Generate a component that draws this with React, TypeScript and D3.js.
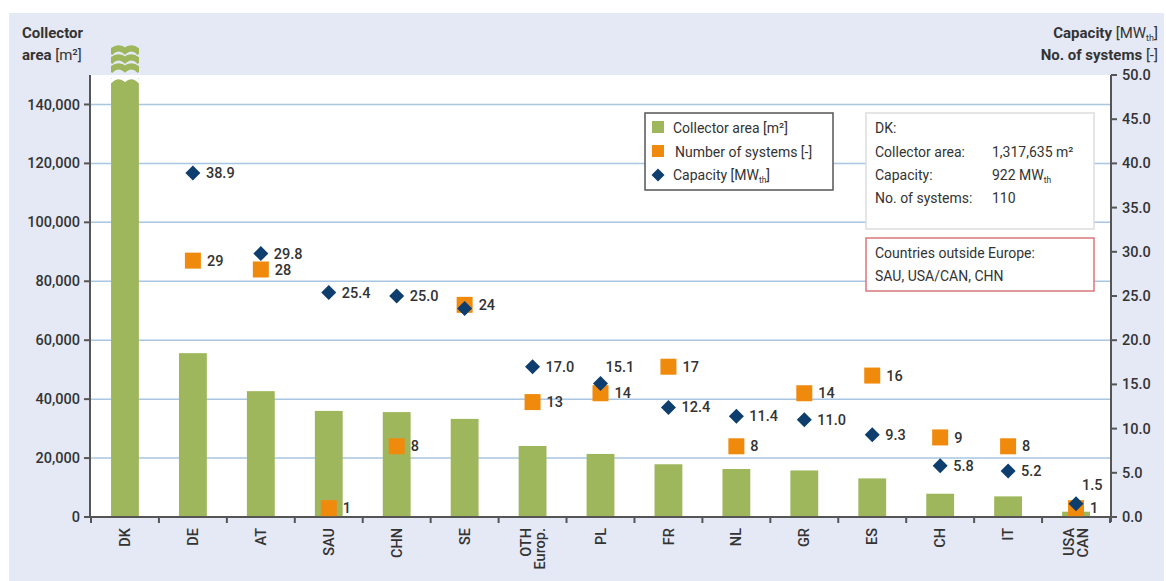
import React from 'react';
import * as d3 from 'd3';

const categories = ['DK', 'DE', 'AT', 'SAU', 'CHN', 'SE', 'OTH|Europ.', 'PL', 'FR', 'NL', 'GR', 'ES', 'CH', 'IT', 'USA|CAN'];
const collectorArea = [1317635, 55600, 42700, 36000, 35600, 33300, 24100, 21400, 17900, 16300, 15800, 13100, 7900, 7000, 1800];
const numberOfSystems = [110, 29, 28, 1, 8, 24, 13, 14, 17, 8, 14, 16, 9, 8, 1];
const capacity = [922, 38.9, 29.8, 25.4, 25.0, 23.6, 17.0, 15.1, 12.4, 11.4, 11.0, 9.3, 5.8, 5.2, 1.5];
// label shown next to the capacity diamond ('' = no label)
const capacityLabels = ['', '38.9', '29.8', '25.4', '25.0', '', '17.0', '15.1', '12.4', '11.4', '11.0', '9.3', '5.8', '5.2', '1.5'];
const leftTicks = [0, 20000, 40000, 60000, 80000, 100000, 120000, 140000];
const rightTicks = [0, 5, 10, 15, 20, 25, 30, 35, 40, 45, 50];

const W = 1166;
const H = 581;
const FONT = 'Roboto, "Noto Sans", sans-serif';
const GREEN = '#9fb75c';
const ORANGE = '#f08a0c';
const NAVY = '#0e3e6e';
const TEXT = '#333333';

const App: React.FC = () => {
  const x = d3.scaleBand<string>().domain(categories).range([91, 1110]).paddingInner(0.59).paddingOuter(0.295);
  const yLeft = d3.scaleLinear().domain([0, 150000]).range([517, 75]);
  const yRight = d3.scaleLinear().domain([0, 50]).range([517, 75]);
  const fmt = d3.format(',');
  const cx = (c: string) => (x(c) ?? 0) + x.bandwidth() / 2;

  const diamond = (s: number) => `M0,${-s}L${s},0L0,${s}L${-s},0Z`;
  // one break "chevron" across the bar
  const wave = (x0: number, w: number, y: number) =>
    `M${x0},${y + 3}Q${x0 + w / 4},${y - 5} ${x0 + w / 2},${y + 1}Q${x0 + (3 * w) / 4},${y - 5} ${x0 + w},${y + 3}`;

  const sub = (main: string, s: string, fs: number) => (
    <>
      {main}
      <tspan fontSize={fs * 0.6} dy={3}>{s}</tspan>
      <tspan dy={-3}>]</tspan>
    </>
  );

  return (
    <svg width={W} height={H} style={{ position: 'absolute', left: 0, top: 0, display: 'block' }} fontFamily={FONT}>
      <rect x={0} y={0} width={W} height={H} fill="#ffffff" />
      <rect x={9} y={13} width={1155} height={H - 13} fill="#e5e9f5" />
      <rect x={91} y={75} width={1020} height={442} fill="#ffffff" />

      {/* grid */}
      {leftTicks.filter((t) => t > 0).map((t) => (
        <line key={t} x1={91} x2={1110} y1={yLeft(t)} y2={yLeft(t)} stroke="#a9c6e2" strokeWidth={1.5} />
      ))}

      {/* bars */}
      {categories.map((c, i) => {
        const bx = x(c) ?? 0;
        const bw = x.bandwidth();
        const v = collectorArea[i];
        if (v > 150000) {
          const top = 78;
          return (
            <g key={c}>
              <clipPath id="dkclip">
                <rect x={bx} y={40} width={bw} height={600} />
              </clipPath>
              <g clipPath="url(#dkclip)">
                <rect x={bx} y={top} width={bw} height={yLeft(0) - top} fill={GREEN} />
                <path d={wave(bx - 1, bw + 2, top + 1)} stroke="#ffffff" strokeWidth={3.5} fill="none" />
                {[50, 59, 68].map((wy) => (
                  <path key={wy} d={wave(bx - 1, bw + 2, wy)} stroke={GREEN} strokeWidth={6} fill="none" />
                ))}
              </g>
            </g>
          );
        }
        return <rect key={c} x={bx} y={yLeft(v)} width={bw} height={yLeft(0) - yLeft(v)} fill={GREEN} />;
      })}

      {/* axes */}
      <g stroke="#555555" strokeWidth={2}>
        <line x1={90} x2={90} y1={75} y2={518} />
        <line x1={90} x2={1111} y1={517} y2={517} />
        <line x1={1111} x2={1111} y1={75} y2={522} />
        {leftTicks.map((t) => (
          <line key={'l' + t} x1={84} x2={90} y1={yLeft(t)} y2={yLeft(t)} />
        ))}
        {rightTicks.map((t) => (
          <line key={'r' + t} x1={1111} x2={1117} y1={yRight(t)} y2={yRight(t)} />
        ))}
        {categories.map((c) => (
          <line key={'x' + c} x1={x(c)! - x.step() * 0.295} x2={x(c)! - x.step() * 0.295} y1={517} y2={523} />
        ))}
        <line x1={1110} x2={1110} y1={517} y2={523} />
      </g>

      {leftTicks.map((t) => (
        <text key={'lt' + t} x={80} y={yLeft(t)} dy="0.35em" textAnchor="end" fontSize={14.5} fontWeight={500} fill={TEXT}>
          {fmt(t)}
        </text>
      ))}
      {rightTicks.map((t) => (
        <text key={'rt' + t} x={1122} y={yRight(t)} dy="0.35em" textAnchor="start" fontSize={14.5} fontWeight={500} fill={TEXT}>
          {t.toFixed(1)}
        </text>
      ))}

      {/* category labels */}
      {categories.map((c) => {
        const lines = c.split('|');
        return lines.map((ln, j) => {
          const lx = cx(c) + (j - (lines.length - 1) / 2) * 14;
          return (
            <text
              key={c + j}
              transform={`translate(${lx},528) rotate(-90)`}
              textAnchor="end"
              dy="0.35em"
              fontSize={14.5}
              fontWeight={500}
              fill={TEXT}
            >
              {ln}
            </text>
          );
        });
      })}

      {/* number of systems */}
      {categories.map((c, i) => {
        const v = numberOfSystems[i];
        if (v > 50) return null;
        const py = yRight(v);
        return (
          <g key={'n' + c}>
            <rect x={cx(c) - 8} y={py - 8} width={16} height={16} fill={ORANGE} />
            <text x={cx(c) + 14} y={py} dy="0.35em" fontSize={14.5} fontWeight={500} fill={TEXT}>
              {v}
            </text>
          </g>
        );
      })}

      {/* capacity */}
      {categories.map((c, i) => {
        const v = capacity[i];
        if (v > 50) return null;
        const py = yRight(v);
        const lbl = capacityLabels[i];
        let lx = cx(c) + 13;
        let ly = py;
        if (c === 'PL') {
          lx = cx(c) + 5;
          ly = py - 17;
        }
        if (c === 'USA|CAN') {
          lx = cx(c) + 6;
          ly = py - 19;
        }
        return (
          <g key={'c' + c}>
            <path d={diamond(7.5)} transform={`translate(${cx(c)},${py})`} fill={NAVY} />
            {lbl && (
              <text x={lx} y={ly} dy="0.35em" fontSize={14.5} fontWeight={500} fill={TEXT}>
                {lbl}
              </text>
            )}
          </g>
        );
      })}

      {/* axis titles */}
      <text x={22} y={38} fontSize={15} fontWeight={700} fill={TEXT}>Collector</text>
      <text x={22} y={60} fontSize={15} fill={TEXT}>
        <tspan fontWeight={700}>area</tspan> [m²]
      </text>
      <text x={1158} y={38} fontSize={15} textAnchor="end" fill={TEXT}>
        <tspan fontWeight={700}>Capacity</tspan> [MW
        <tspan fontSize={9} dy={3}>th</tspan>
        <tspan dy={-3}>]</tspan>
      </text>
      <text x={1158} y={60} fontSize={15} textAnchor="end" fill={TEXT}>
        <tspan fontWeight={700}>No. of systems</tspan> [-]
      </text>

      {/* legend */}
      <rect x={645} y={113} width={188} height={77} fill="#ffffff" stroke="#555555" strokeWidth={1.5} />
      <rect x={652} y={121} width={12} height={12} fill={GREEN} />
      <text x={673} y={128} dy="0.35em" fontSize={14} fill={TEXT}>Collector area [m²]</text>
      <rect x={652} y={145} width={12} height={12} fill={ORANGE} />
      <text x={675} y={152} dy="0.35em" fontSize={14} fill={TEXT}>Number of systems [-]</text>
      <path d={diamond(6.5)} transform="translate(658,175)" fill={NAVY} />
      <text x={673} y={175} dy="0.35em" fontSize={14} fill={TEXT}>{sub('Capacity [MW', 'th', 14)}</text>

      {/* DK info box */}
      <rect x={866} y={113} width={228} height={116} fill="#ffffff" stroke="#dddddd" strokeWidth={1.5} />
      <text x={875} y={128} dy="0.35em" fontSize={14} fill={TEXT}>DK:</text>
      <text x={875} y={152} dy="0.35em" fontSize={14} fill={TEXT}>Collector area:</text>
      <text x={992} y={152} dy="0.35em" fontSize={14} fill={TEXT}>1,317,635 m²</text>
      <text x={875} y={175} dy="0.35em" fontSize={14} fill={TEXT}>Capacity:</text>
      <text x={992} y={175} dy="0.35em" fontSize={14} fill={TEXT}>
        922 MW<tspan fontSize={8.5} dy={3}>th</tspan>
      </text>
      <text x={875} y={198} dy="0.35em" fontSize={14} fill={TEXT}>No. of systems:</text>
      <text x={992} y={198} dy="0.35em" fontSize={14} fill={TEXT}>110</text>

      {/* outside Europe box */}
      <rect x={866} y={238} width={228} height={53} fill="#ffffff" stroke="#d9777b" strokeWidth={1.5} />
      <text x={875} y={253} dy="0.35em" fontSize={14} fill={TEXT}>Countries outside Europe:</text>
      <text x={875} y={276} dy="0.35em" fontSize={14} fill={TEXT}>SAU, USA/CAN, CHN</text>
    </svg>
  );
};

export default App;
